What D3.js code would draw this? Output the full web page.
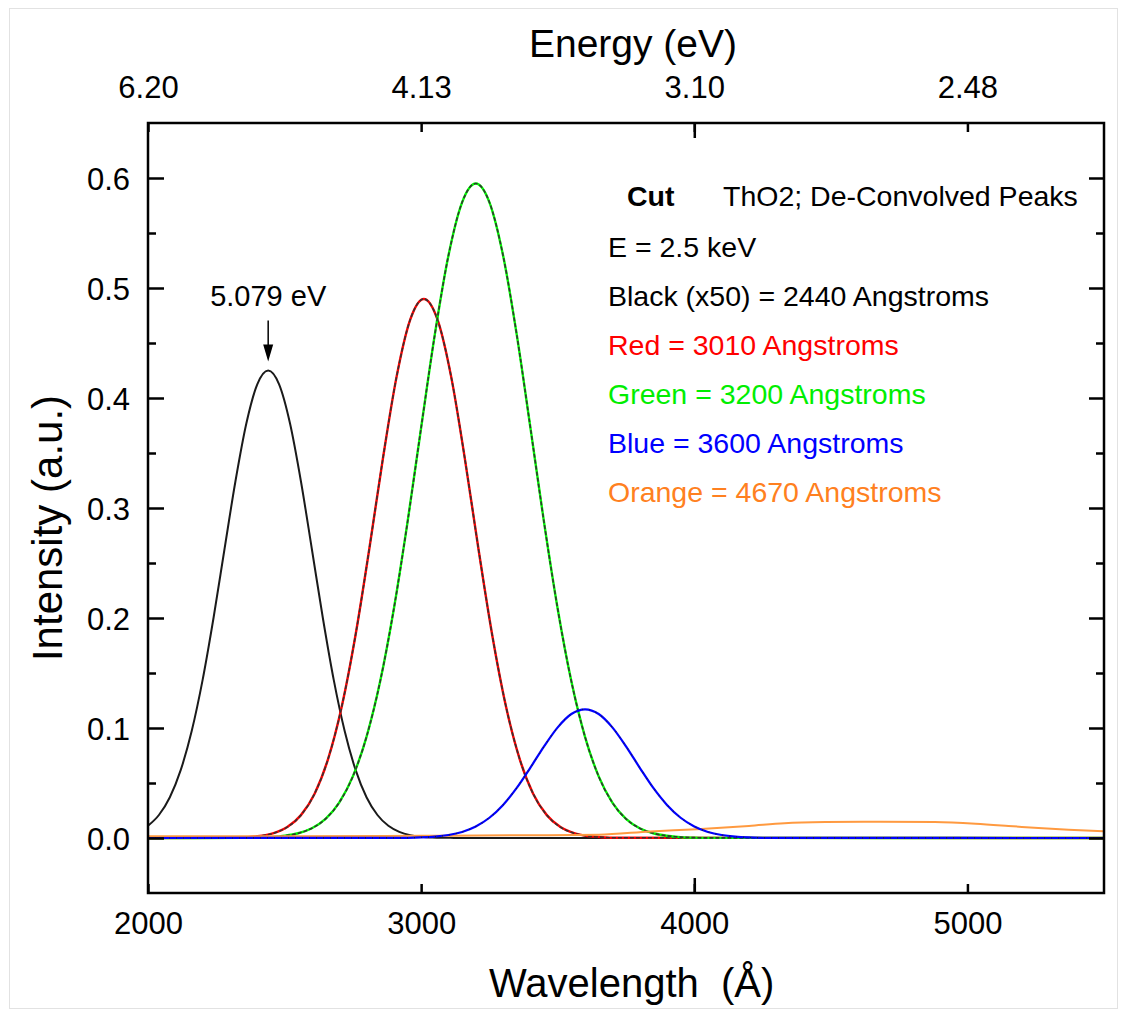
<!DOCTYPE html>
<html>
<head>
<meta charset="utf-8">
<script src="https://cdn.jsdelivr.net/npm/d3@7"></script>
<style>
  body { margin: 0; background: #fff; }
  svg text { font-family: "Liberation Sans", Arial, sans-serif; fill: #000; }
</style>
</head>
<body>
<svg id="chart" width="1122" height="1014"></svg>
<script>
// Wavelength (Angstrom) / intensity pairs
const blackWl = [2000, 2040, 2080, 2120, 2160, 2200, 2240, 2280, 2320, 2360, 2400, 2440, 2480, 2520, 2560, 2600,
  2640, 2680, 2720, 2760, 2800, 2840, 2880, 2920, 2960, 3000, 3040, 3080, 3120, 3160, 5500];
const blackI = [0.0111, 0.0209, 0.0371, 0.0619, 0.0972, 0.1437, 0.2002, 0.2625, 0.3241, 0.3768, 0.4124, 0.425,
  0.4124, 0.3768, 0.3241, 0.2625, 0.2002, 0.1437, 0.0972, 0.0619, 0.0371, 0.0209, 0.0111, 0.0056, 0.0026, 0.0012,
  0.0005, 0.0002, 0.0001, 0, 0];

const redWl = [2000, 2310, 2360, 2410, 2460, 2510, 2560, 2610, 2660, 2710, 2760, 2810, 2860, 2910, 2960, 3010,
  3060, 3110, 3160, 3210, 3260, 3310, 3360, 3410, 3460, 3510, 3560, 3610, 3660, 3710, 5500];
const redI = [0, 0.0002, 0.0007, 0.0018, 0.0044, 0.0099, 0.0208, 0.0403, 0.0724, 0.1203, 0.1848, 0.2625, 0.3449,
  0.4192, 0.4712, 0.49, 0.4712, 0.4192, 0.3449, 0.2625, 0.1848, 0.1203, 0.0724, 0.0403, 0.0208, 0.0099, 0.0044,
  0.0018, 0.0007, 0.0002, 0];

const greenWl = [2000, 2350, 2400, 2450, 2500, 2550, 2600, 2650, 2700, 2750, 2800, 2850, 2900, 2950, 3000, 3050,
  3100, 3150, 3200, 3250, 3300, 3350, 3400, 3450, 3500, 3550, 3600, 3650, 3700, 3750, 3800, 3850, 3900, 3950,
  4000, 4050, 5500];
const greenI = [0, 0.0001, 0.0003, 0.0008, 0.002, 0.0043, 0.0089, 0.0174, 0.0322, 0.056, 0.092, 0.1424, 0.2082,
  0.2869, 0.3731, 0.4576, 0.5295, 0.5779, 0.595, 0.5779, 0.5295, 0.4576, 0.3731, 0.2869, 0.2082, 0.1424, 0.092,
  0.056, 0.0322, 0.0174, 0.0089, 0.0043, 0.002, 0.0008, 0.0003, 0.0001, 0];

const blueWl = [2000, 2900, 2950, 3000, 3050, 3100, 3150, 3200, 3250, 3300, 3350, 3400, 3450, 3500, 3550, 3600,
  3650, 3700, 3750, 3800, 3850, 3900, 3950, 4000, 4050, 4100, 4150, 4200, 4250, 4300, 5500];
const blueI = [0, 0.0001, 0.0002, 0.0005, 0.0012, 0.0027, 0.0055, 0.0105, 0.0184, 0.0301, 0.0455, 0.064, 0.0833,
  0.1006, 0.1127, 0.117, 0.1127, 0.1006, 0.0833, 0.064, 0.0455, 0.0301, 0.0184, 0.0105, 0.0055, 0.0027, 0.0012,
  0.0005, 0.0002, 0.0001, 0];

const orangeWl = [2000, 2500, 3000, 3400, 3650, 3840, 4010, 4200, 4330, 4480, 4680, 4880, 5030, 5150, 5260, 5370, 5500];
const orangeI = [0.0015, 0.0015, 0.002, 0.0025, 0.003, 0.006, 0.008, 0.011, 0.0135, 0.0145, 0.0148, 0.0145,
  0.013, 0.011, 0.009, 0.0074, 0.006];

// Axis ticks
const wlTicks = [2000, 3000, 4000, 5000];
const energyLabels = ["6.20", "4.13", "3.10", "2.48"];
const yMajor = [0, 0.1, 0.2, 0.3, 0.4, 0.5, 0.6];
const yMinor = [0.05, 0.15, 0.25, 0.35, 0.45, 0.55];

// Legend lines
const legendLines = [
  { text: "E = 2.5 keV", color: "#000" },
  { text: "Black (x50) = 2440 Angstroms", color: "#000" },
  { text: "Red = 3010 Angstroms", color: "#ff0000" },
  { text: "Green = 3200 Angstroms", color: "#00ee00" },
  { text: "Blue = 3600 Angstroms", color: "#0000ff" },
  { text: "Orange = 4670 Angstroms", color: "#ff8020" }
];

const svg = d3.select("#chart");
const pLeft = 148, pRight = 1104, pTop = 123, pBottom = 893;

// outer light frame of the figure
svg.append("rect").attr("x", 9.5).attr("y", 8.5).attr("width", 1108).attr("height", 1000)
  .attr("fill", "none").attr("stroke", "#e2e2e2");

const x = d3.scaleLinear().domain([2000, 5500]).range([pLeft, pRight]);
const y = d3.scaleLinear().domain([-0.05, 0.65]).range([pBottom, pTop]);

const line = d3.line().x(d => x(d[0])).y(d => y(d[1])).curve(d3.curveMonotoneX);
const zip = (a, b) => a.map((v, i) => [v, b[i]]);

const plot = svg.append("g");

// Black curve
plot.append("path").datum(zip(blackWl, blackI)).attr("d", line)
  .attr("fill", "none").attr("stroke", "#1a1a1a").attr("stroke-width", 2);

// Red and green: coloured line with dark dashes over it
[[redWl, redI, "#ff0000"], [greenWl, greenI, "#00ff00"]].forEach(([wl, vals, col]) => {
  const data = zip(wl, vals);
  plot.append("path").datum(data).attr("d", line)
    .attr("fill", "none").attr("stroke", col).attr("stroke-width", 2.4);
  plot.append("path").datum(data).attr("d", line)
    .attr("fill", "none").attr("stroke", "#333").attr("stroke-width", 1.6)
    .attr("stroke-dasharray", "4,2");
});

// Orange curve
plot.append("path").datum(zip(orangeWl, orangeI)).attr("d", line)
  .attr("fill", "none").attr("stroke", "#ff9a40").attr("stroke-width", 2);

// Blue curve
const blueData = zip(blueWl, blueI);
plot.append("path").datum(blueData).attr("d", line)
  .attr("fill", "none").attr("stroke", "#0000ff").attr("stroke-width", 2.2);
plot.append("path").datum(blueData).attr("d", line)
  .attr("fill", "none").attr("stroke", "#222").attr("stroke-width", 1.2)
  .attr("stroke-dasharray", "1,6");

// Frame
svg.append("rect").attr("x", pLeft).attr("y", pTop).attr("width", pRight - pLeft).attr("height", pBottom - pTop)
  .attr("fill", "none").attr("stroke", "#000").attr("stroke-width", 2.5);

const styleAxis = g => {
  g.select(".domain").remove();
  g.selectAll("line").attr("stroke", "#000").attr("stroke-width", 2.5);
  g.selectAll("text").style("font-size", "31px").attr("fill", "#000");
};

// Left axis
svg.append("g").attr("transform", `translate(${pLeft},0)`)
  .call(d3.axisLeft(y).tickValues(yMajor).tickSize(-16).tickPadding(18).tickFormat(d3.format(".1f")))
  .call(styleAxis).selectAll("text").attr("dy", "0.36em");
svg.append("g").attr("transform", `translate(${pLeft},0)`)
  .call(d3.axisLeft(y).tickValues(yMinor).tickSize(-8).tickFormat(""))
  .call(styleAxis);

// Right axis
svg.append("g").attr("transform", `translate(${pRight},0)`)
  .call(d3.axisRight(y).tickValues(yMajor).tickSize(-15).tickFormat(""))
  .call(styleAxis);
svg.append("g").attr("transform", `translate(${pRight},0)`)
  .call(d3.axisRight(y).tickValues(yMinor).tickSize(-8).tickFormat(""))
  .call(styleAxis);

// Bottom axis (wavelength)
svg.append("g").attr("transform", `translate(0,${pBottom})`)
  .call(d3.axisBottom(x).tickValues(wlTicks).tickSize(-9).tickPadding(19).tickFormat(d3.format("d")))
  .call(styleAxis);
svg.append("g").attr("transform", `translate(0,${pBottom})`)
  .call(d3.axisBottom(x).tickValues([4000]).tickSize(-15).tickFormat(""))
  .call(styleAxis);

// Top axis (energy)
svg.append("g").attr("transform", `translate(0,${pTop})`)
  .call(d3.axisTop(x).tickValues(wlTicks).tickSize(-9).tickPadding(25).tickFormat((d, i) => energyLabels[i]))
  .call(styleAxis);
svg.append("g").attr("transform", `translate(0,${pTop})`)
  .call(d3.axisTop(x).tickValues([4000]).tickSize(-15).tickFormat(""))
  .call(styleAxis);

// Axis titles
svg.append("text").attr("x", 633).attr("y", 57).attr("text-anchor", "middle")
  .style("font-size", "39px").text("Energy (eV)");
svg.append("text").attr("x", 489).attr("y", 997).style("font-size", "40px")
  .text("Wavelength\u00a0\u00a0(\u00c5)");
svg.append("text").attr("transform", "translate(62,528) rotate(-90)").attr("text-anchor", "middle")
  .style("font-size", "42px").text("Intensity (a.u.)");

// Legend
svg.append("text").attr("x", 627).attr("y", 206).style("font-size", "28.5px").style("font-weight", "bold").text("Cut");
svg.append("text").attr("x", 723).attr("y", 206).style("font-size", "28.5px").text("ThO2; De-Convolved Peaks");
legendLines.forEach((d, i) => {
  svg.append("text").attr("x", 608).attr("y", 257 + i * 49)
    .style("font-size", "28.5px").style("fill", d.color).text(d.text);
});

// Peak annotation
const peakX = x(2440), peakY = y(0.425);
svg.append("text").attr("x", peakX).attr("y", peakY - 65).attr("text-anchor", "middle")
  .style("font-size", "29px").text("5.079 eV");
svg.append("line").attr("x1", peakX).attr("x2", peakX).attr("y1", peakY - 50).attr("y2", peakY - 22)
  .attr("stroke", "#000").attr("stroke-width", 1.5);
svg.append("path")
  .attr("d", `M${peakX - 5},${peakY - 26} L${peakX + 5},${peakY - 26} L${peakX},${peakY - 9} Z`)
  .attr("fill", "#000");
</script>
</body>
</html>
